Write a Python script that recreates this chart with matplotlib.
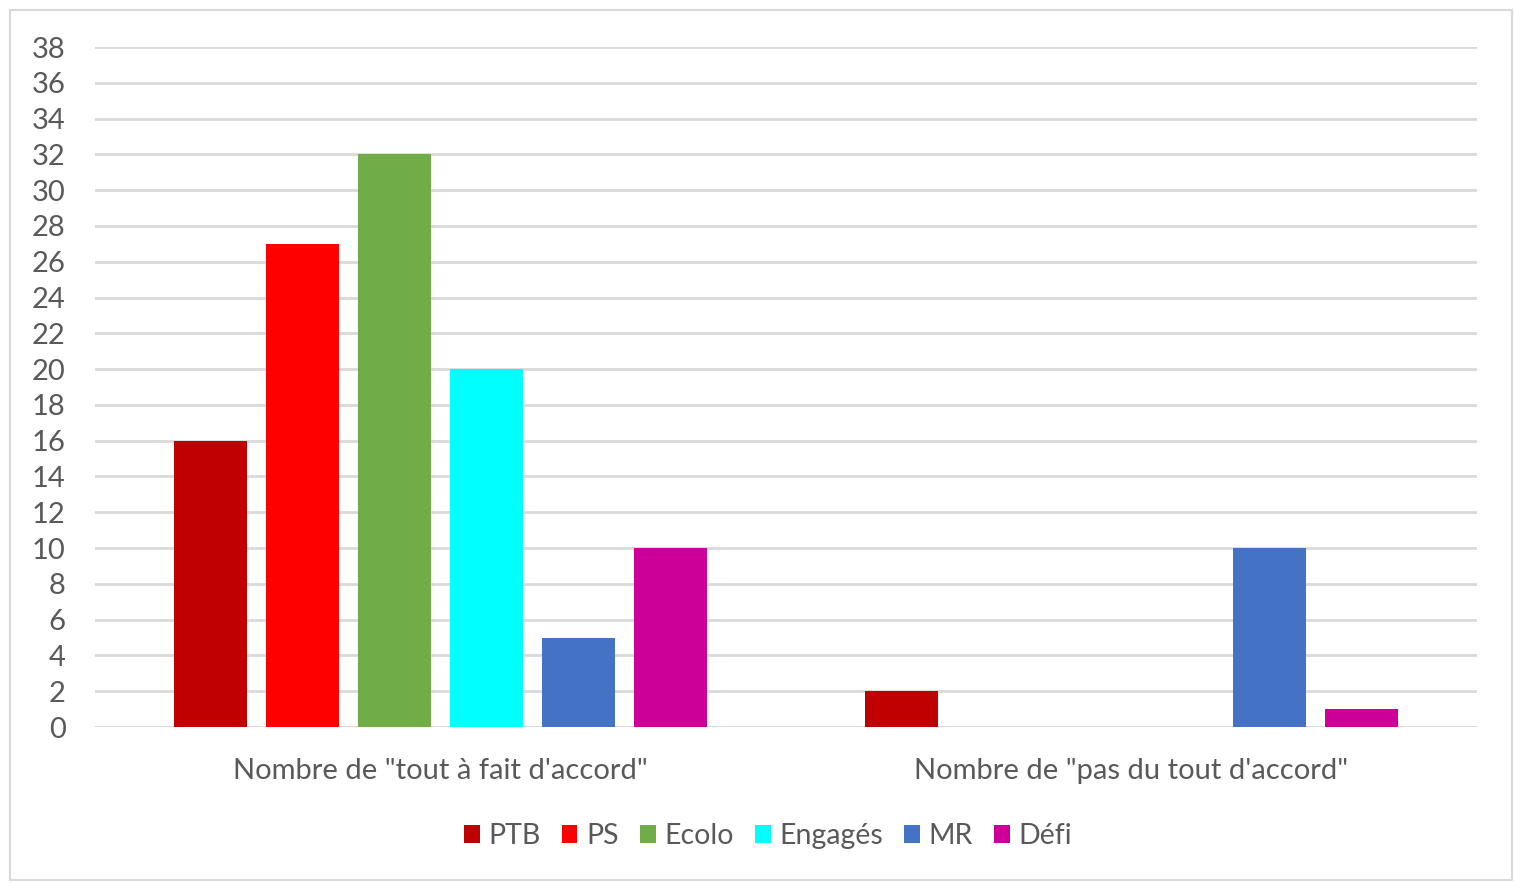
import matplotlib
matplotlib.use("Agg")
import matplotlib.pyplot as plt
import numpy as np
from matplotlib.patches import Rectangle

categories = ['Nombre de "tout à fait d\'accord"', 'Nombre de "pas du tout d\'accord"']
parties = ["PTB", "PS", "Ecolo", "Engagés", "MR", "Défi"]
ptb = [16, 2]
ps = [27, 0]
ecolo = [32, 0]
engages = [20, 0]
mr = [5, 10]
defi = [10, 1]
series = [ptb, ps, ecolo, engages, mr, defi]
colors = ["#C00000", "#FF0000", "#70AD47", "#00FFFF", "#4472C4", "#CC0099"]
yticks = list(range(0, 39, 2))

plt.rcParams['font.family'] = ['Lato', 'DejaVu Sans']
txt = "#595959"

fig = plt.figure(figsize=(15.14, 8.83), dpi=100)
W, H = 1514, 883
ax = fig.add_axes([95 / W, 1 - 727 / H, (1477 - 95) / W, (727 - 47) / H])

x = np.arange(len(categories))
step = 0.133
width = 0.1056
for i, (vals, name, c) in enumerate(zip(series, parties, colors)):
    ax.bar(x + (i - 2.5) * step, vals, width=width, color=c, label=name, zorder=3)

ax.set_xlim(-0.5, 1.5)
ax.set_ylim(0, 38)
ax.set_yticks(yticks)
ax.set_yticklabels([str(t) for t in yticks], fontsize=21, color=txt)
ax.set_xticks(x)
ax.set_xticklabels(categories, fontsize=21, color=txt)
ax.tick_params(axis='both', length=0)
ax.tick_params(axis='y', pad=21)
ax.tick_params(axis='x', pad=22)
ax.grid(axis='y', color="#d9d9d9", linewidth=2, zorder=0)
for s in ax.spines.values():
    s.set_visible(False)
ax.axhline(0, color="#d9d9d9", linewidth=2, zorder=2)

leg = fig.legend(loc='center', bbox_to_anchor=(768 / W, 1 - 836 / H), ncol=6, frameon=False,
                 fontsize=20.5, handlelength=0.55, handleheight=0.55, handletextpad=0.3,
                 columnspacing=0.75)
for t in leg.get_texts():
    t.set_color(txt)

fig.patches.append(Rectangle((10 / W, 1 - 880 / H), (1512 - 10) / W, (880 - 10) / H,
                             transform=fig.transFigure, fill=False, edgecolor="#d9d9d9",
                             linewidth=1.5))

fig.savefig("out.png", dpi=100, facecolor="white")
